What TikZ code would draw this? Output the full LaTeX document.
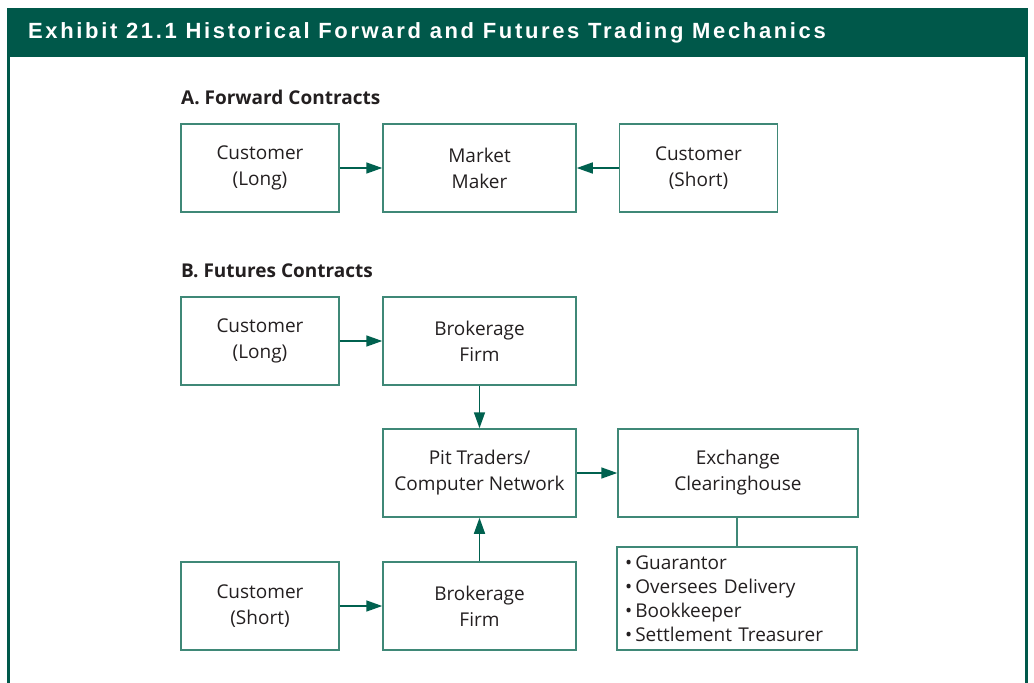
\documentclass[tikz,border=0pt]{standalone}
\usepackage{fontspec}
\setmainfont{Open Sans}
\newfontfamily\headfont[LetterSpace=12]{Liberation Sans}
\usetikzlibrary{arrows.meta, positioning}
\definecolor{headgreen}{HTML}{00584A}
\definecolor{boxteal}{HTML}{3F8877}
\definecolor{arrowgreen}{HTML}{00614F}
\definecolor{bodytext}{HTML}{231F20}
\tikzset{
  box/.style={draw=boxteal, line width=1.5pt, text=bodytext, align=center,
    minimum height=88pt, font=\fontsize{19}{26}\selectfont, inner sep=0pt},
  arr/.style={arrowgreen, line width=1.6pt, -{Triangle[length=16pt,width=11pt]}},
  part/.style={anchor=west, text=bodytext, font=\fontsize{19}{20}\selectfont\bfseries, inner sep=0pt}
}
\begin{document}
\begin{tikzpicture}[x=1pt, y=-1pt]
        \useasboundingbox (0,0) rectangle (1034,683);
        % frame and title band
        \fill[headgreen] (7,8) rectangle (1028,57);
        \draw[headgreen, line width=3pt] (8.5,56) -- (8.5,683);
        \draw[headgreen, line width=3pt] (1026.5,56) -- (1026.5,683);
        \node[anchor=west, text=white, inner sep=0pt, font=\headfont\fontsize{22}{24}\selectfont\bfseries] (title) at (28,33) {Exhibit 21.1 Historical Forward and Futures Trading Mechanics};
        % A. forward contracts
        \node[part] (partA) at (181,97) {A. Forward Contracts};
        \node[box, minimum width=158pt] (fwdlong) at (260,168) {Customer\\(Long)};
        \node[box, minimum width=193pt] (maker) at (479.5,168) {Market\\Maker};
        \node[box, minimum width=158pt] (fwdshort) at (698.5,168) {Customer\\(Short)};
        \draw[arr] (fwdlong) -- (maker);
        \draw[arr] (fwdshort) -- (maker);
        % B. futures contracts
        \node[part] (partB) at (181,271) {B. Futures Contracts};
        \node[box, minimum width=158pt] (futlong) at (260,341) {Customer\\(Long)};
        \node[box, minimum width=193pt] (brokertop) at (479.5,341) {Brokerage\\Firm};
        \node[box, minimum width=193pt] (pit) at (479.5,473) {Pit Traders/\\Computer Network};
        \node[box, minimum width=240pt] (clearing) at (738,473) {Exchange\\Clearinghouse};
        \node[box, minimum width=158pt] (futshort) at (260,606) {Customer\\(Short)};
        \node[box, minimum width=193pt] (brokerbot) at (479.5,606) {Brokerage\\Firm};
        \node[box, minimum width=240pt, minimum height=103pt, text width=224pt, align=left,
          font=\fontsize{19}{24}\selectfont] (roles) at (737,598.5)
          {\textbullet\,Guarantor\\\textbullet\,Oversees Delivery\\\textbullet\,Bookkeeper\\\textbullet\,Settlement Treasurer};
        \draw[arr] (futlong) -- (brokertop);
        \draw[arr] (brokertop) -- (pit);
        \draw[arr] (futshort) -- (brokerbot);
        \draw[arr] (brokerbot) -- (pit);
        \draw[arr] (pit) -- (clearing);
        \draw[boxteal, line width=1.5pt] (clearing.south -| roles.north) -- (roles.north);
      \end{tikzpicture}
\end{document}
